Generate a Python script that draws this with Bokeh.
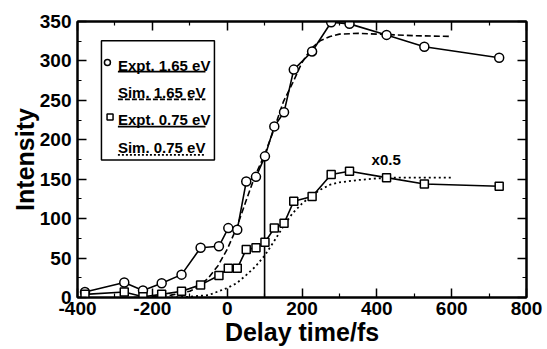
from bokeh.plotting import figure
from bokeh.models import Range1d, LinearAxis, FixedTicker
from bokeh.core.properties import value
from bokeh.embed import file_html
from bokeh.resources import INLINE

# ---------------- data ----------------
delay = [-380, -275, -225, -175, -122, -71, -22, 3, 27, 51, 77, 101, 126, 152, 178, 227, 278, 327, 426, 527, 727]
expt_165 = [7, 19, 9, 18, 29, 63, 65, 88, 86, 147, 153, 179, 217, 235, 289, 312, 349, 347, 333, 318, 304]
expt_075 = [4, 7, 1, 4, 8, 16, 28, 37, 37, 61, 63, 70, 88, 94, 122, 128, 156, 160, 152, 144, 141]

sim_delay_165 = [-250, -200, -150, -100, -75, -50, -25, 0, 25, 50, 75, 100, 125, 150, 175, 200, 225, 250, 275, 300, 350, 400, 450, 500, 600]
sim_165 = [0, 1, 3, 8, 14, 25, 40, 61, 88, 122, 155, 181, 213, 248, 272, 298, 316, 326, 331, 334, 335, 334, 333, 332, 331]

sim_delay_075 = [-150, -100, -50, 0, 25, 50, 75, 100, 125, 150, 175, 200, 225, 250, 275, 300, 350, 400, 450, 500, 600]
sim_075 = [0, 1, 3, 12, 18, 28, 39, 53, 71, 90, 107, 119, 129, 137, 143, 146, 149, 151, 152, 152, 152]

marker_delay = 100          # vertical reference line at this delay
marker_top = 179            # up to the 1.65 eV point

x_ticks = [-400, -200, 0, 200, 400, 600, 800]
x_tick_labels = ["-400", "-200", "0", "200", "400", "600", "800"]
x_minor = [-300, -100, 100, 300, 500, 700]
y_ticks = [0, 50, 100, 150, 200, 250, 300, 350]
y_tick_labels = ["0", "50", "100", "150", "200", "250", "300", "350"]
y_minor = [25, 75, 125, 175, 225, 275, 325]

x_title = "Delay time/fs"
y_title = "Intensity"

legend_labels = ["Expt. 1.65 eV", "Sim. 1.65 eV", "Expt. 0.75 eV", "Sim. 0.75 eV"]
legend_text_y = [294.5, 259.5, 226, 190]
legend_line_y = [286.4, 251.3, 216.7, 180.9]
legend_text_x = -292
legend_line_x = [-292, -58]
legend_box = dict(left=-336, right=-34, bottom=174.5, top=325.7)
legend_circle = (-320, 298)
legend_square = (-313, 229)

scale_note = "x0.5"
scale_note_pos = (425, 174.5)

FONT = "Liberation Sans"

# ---------------- figure ----------------
p = figure(width=547, height=349, x_range=Range1d(-400, 800), y_range=Range1d(0, 350),
           output_backend="svg", toolbar_location=None,
           min_border_left=77, min_border_right=21, min_border_top=21, min_border_bottom=52)
p.xgrid.visible = False
p.ygrid.visible = False
p.outline_line_color = "black"
p.outline_line_width = 2
p.background_fill_color = "white"
p.border_fill_color = "white"

xt = FixedTicker(ticks=x_ticks, minor_ticks=x_minor)
yt = FixedTicker(ticks=y_ticks, minor_ticks=y_minor)

bottom_axis = p.below[0]
left_axis = p.left[0]
bottom_axis.ticker = xt
left_axis.ticker = yt
bottom_axis.major_label_overrides = {t: l for t, l in zip(x_ticks, x_tick_labels)}
left_axis.major_label_overrides = {t: l for t, l in zip(y_ticks, y_tick_labels)}

top_axis = LinearAxis(ticker=xt)
right_axis = LinearAxis(ticker=yt)
top_axis.major_label_overrides = {t: "" for t in x_ticks}
right_axis.major_label_overrides = {t: "" for t in y_ticks}
p.add_layout(top_axis, "above")
p.add_layout(right_axis, "right")

for ax in [bottom_axis, left_axis, top_axis, right_axis]:
    ax.axis_line_width = 2
    ax.axis_line_color = "black"
    ax.major_tick_in = 9
    ax.major_tick_out = 0
    ax.minor_tick_in = 4
    ax.minor_tick_out = 0
    ax.major_tick_line_width = 1.5
    ax.minor_tick_line_width = 1.2
    ax.major_label_text_font = FONT
    ax.major_label_text_font_style = "bold"
    ax.major_label_text_font_size = "19px"
    ax.major_label_text_color = "black"

for ax in [top_axis, right_axis]:
    ax.major_label_standoff = 0

bottom_axis.major_label_standoff = 4
left_axis.major_label_standoff = 6

bottom_axis.axis_label = x_title
left_axis.axis_label = y_title
for ax in [bottom_axis, left_axis]:
    ax.axis_label_text_font = FONT
    ax.axis_label_text_font_style = "bold"
    ax.axis_label_text_font_size = "25px"
    ax.axis_label_text_color = "black"
bottom_axis.axis_label_standoff = 0
left_axis.axis_label_standoff = -2

# ---------------- data marks ----------------
p.line(sim_delay_165, sim_165, line_color="black", line_width=1.6, line_dash="6 3")
p.line(sim_delay_075, sim_075, line_color="black", line_width=1.8, line_dash="2 3")

p.segment(x0=[marker_delay], y0=[0], x1=[marker_delay], y1=[marker_top],
          line_color="black", line_width=1.6)

p.line(delay, expt_165, line_color="black", line_width=1.6)
p.scatter(delay, expt_165, marker="circle", size=9, fill_color="white",
          line_color="black", line_width=1.5)
p.line(delay, expt_075, line_color="black", line_width=1.6)
p.scatter(delay, expt_075, marker="square", size=8, fill_color="white",
          line_color="black", line_width=1.5)

p.text(x=[scale_note_pos[0]], y=[scale_note_pos[1]], text=[scale_note],
       text_font=value(FONT), text_font_style="bold", text_font_size="15px",
       text_align="center", text_baseline="alphabetic", text_color="black")

# ---------------- legend ----------------
p.quad(left=[legend_box["left"]], right=[legend_box["right"]],
       bottom=[legend_box["bottom"]], top=[legend_box["top"]],
       fill_color="white", line_color="black", line_width=1.5)
p.text(x=[legend_text_x] * 4, y=legend_text_y, text=legend_labels,
       text_font=value(FONT), text_font_style="bold", text_font_size="15px",
       text_align="left", text_baseline="alphabetic", text_color="black")
dashes = ["solid", "5 2", "solid", "2 2"]
for yy, d in zip(legend_line_y, dashes):
    p.segment(x0=[legend_line_x[0]], y0=[yy], x1=[legend_line_x[1]], y1=[yy],
              line_color="black", line_width=1.6, line_dash=d)
p.scatter([legend_circle[0]], [legend_circle[1]], marker="circle", size=6,
          fill_color="white", line_color="black", line_width=1.5)
p.scatter([legend_square[0]], [legend_square[1]], marker="square", size=6,
          fill_color="white", line_color="black", line_width=1.5)

open("out.html", "w").write(file_html(p, INLINE))
